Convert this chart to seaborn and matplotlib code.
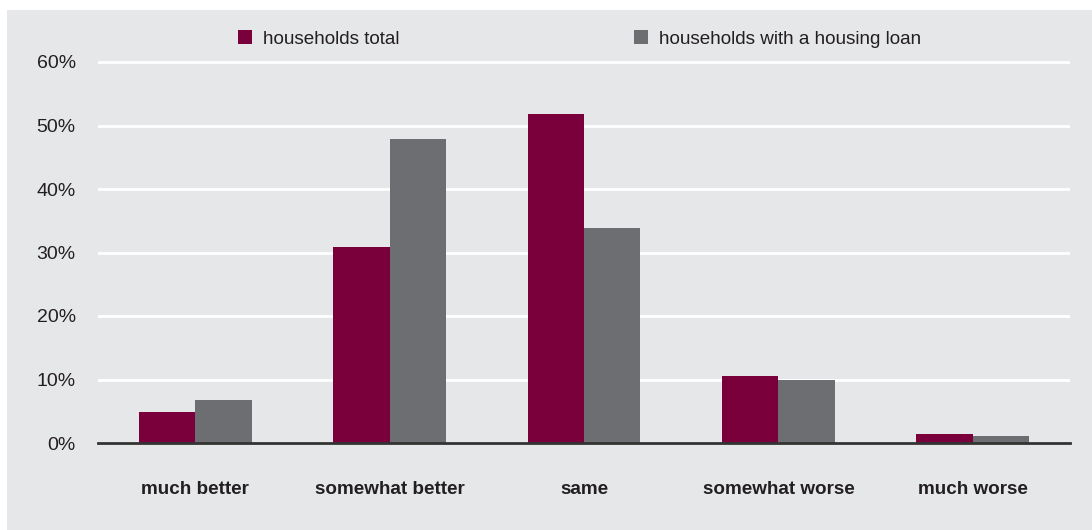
import matplotlib
matplotlib.use("Agg")
import matplotlib.pyplot as plt
import seaborn as sns
import pandas as pd
from matplotlib.patches import Rectangle

categories = ["much better", "somewhat better", "same", "somewhat worse", "much worse"]
households_total = [4.9, 30.8, 51.8, 10.6, 1.4]
households_loan = [6.8, 47.8, 33.9, 10.0, 1.1]
series_names = ["households total", "households with a housing loan"]
y_ticks = [0, 10, 20, 30, 40, 50, 60]

df = pd.DataFrame({
    "category": categories * 2,
    "share": households_total + households_loan,
    "group": [series_names[0]] * len(categories) + [series_names[1]] * len(categories),
})

sns.set_theme(style="white")
plt.rcParams["font.family"] = ["Liberation Sans", "DejaVu Sans"]

BG = "#e6e7e9"
palette = {series_names[0]: "#7a003c", series_names[1]: "#6d6e71"}

fig = plt.figure(figsize=(10.92, 5.30), dpi=100)
fig.patch.set_facecolor("white")
fig.add_artist(Rectangle((7 / 1092, 0), 1 - 7 / 1092, 1 - 10 / 530,
                         transform=fig.transFigure, facecolor=BG,
                         edgecolor="none", zorder=-10))

ax_left, ax_right = 98 / 1092, 1070 / 1092
y0_px, ymax = 443, 61
px_per_unit = (443 - 62) / 60
top_px = y0_px - ymax * px_per_unit
ax = fig.add_axes([ax_left, (530 - y0_px) / 530, ax_right - ax_left,
                   (y0_px - top_px) / 530])
ax.set_facecolor(BG)

sns.barplot(data=df, x="category", y="share", hue="group", order=categories,
            hue_order=series_names, palette=palette, width=0.58,
            saturation=1, linewidth=0, ax=ax, legend=False)

ax.set_xlim(-0.5, 4.5)
ax.set_ylim(0, ymax)
ax.set_yticks(y_ticks)
ax.set_yticklabels([f"{v}%" for v in y_ticks])
ax.yaxis.grid(True, color="white", linewidth=2)
ax.set_axisbelow(True)
for side in ["top", "right", "left"]:
    ax.spines[side].set_visible(False)
ax.spines["bottom"].set_color("#333333")
ax.spines["bottom"].set_linewidth(2)
ax.tick_params(axis="both", length=0)
ax.tick_params(axis="y", pad=16, labelsize=14, labelcolor="#231f20")
ax.tick_params(axis="x", pad=27, labelsize=13.6, labelcolor="#231f20")
for lbl in ax.get_xticklabels():
    lbl.set_fontweight("bold")
ax.set_xlabel("")
ax.set_ylabel("")

handles = [Rectangle((0, 0), 1, 1, facecolor=palette[n], edgecolor="none")
           for n in series_names]
fig.legend(handles, series_names, loc="center left",
           bbox_to_anchor=(221 / 1092, 1 - 39 / 530), ncol=2, frameon=False,
           fontsize=13.6, handlelength=0.74, handleheight=0.74,
           handletextpad=0.58, columnspacing=12.4, labelcolor="#231f20")

fig.savefig("out.png", dpi=100, facecolor=fig.get_facecolor())
